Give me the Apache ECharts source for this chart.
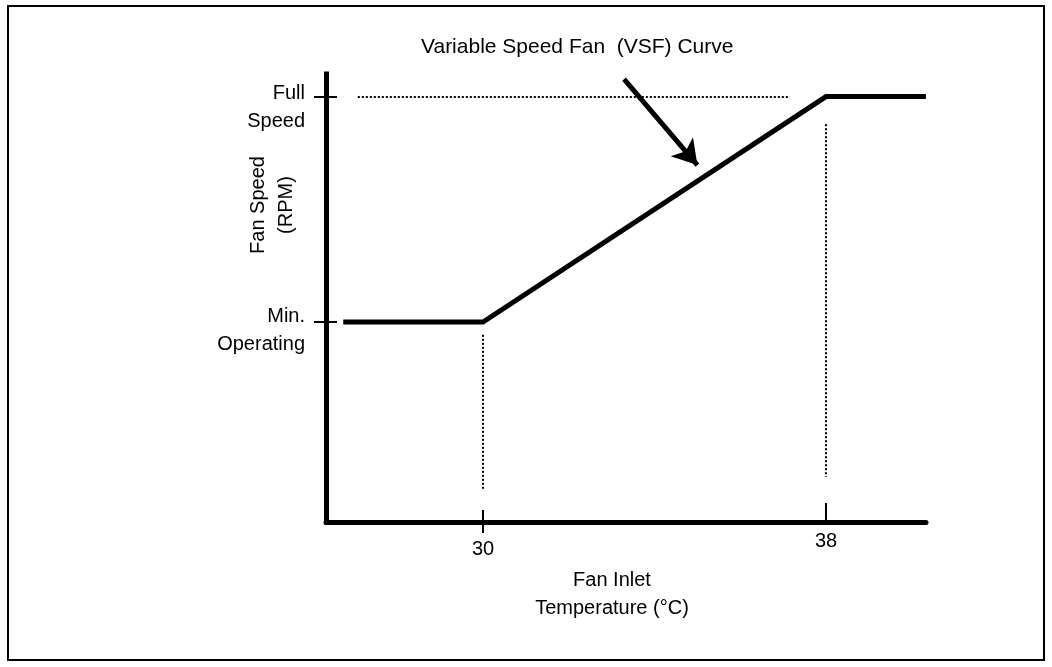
<!DOCTYPE html>
<html><head><meta charset="utf-8">
<script src="https://cdn.jsdelivr.net/npm/echarts@6/dist/echarts.min.js"></script>
<style>html,body{margin:0;padding:0;background:#fff}#c{width:1052px;height:667px}</style>
</head><body><div id="c"></div>
<script>
// ---- data ----
const TITLE = 'Variable Speed Fan  (VSF) Curve';
const X_NAME = 'Fan Inlet\nTemperature (°C)';
const Y_NAME = 'Fan Speed\n(RPM)';
const X_TICK_A = [30];
const X_TICK_B = [38];
const Y_TICKS = [47, 100];
const Y_TICK_LABELS = ['Min.\nOperating', 'Full\nSpeed'];
const CURVE_X = [26.74, 30, 38, 40.33];
const CURVE_Y = [47, 47, 100, 100];
const ARROW_FROM = [33.29, 104.1];
const ARROW_TO = [35.0, 83.9];
const GUIDE_H = [[27.08, 100], [37.16, 100]];
const GUIDE_30 = [[30, 44], [30, 7.8]];
const GUIDE_38 = [[38, 93.5], [38, 10.6]];
const X_MIN = 26.338, X_MAX = 40.332, Y_MIN = 0, Y_MAX = 105.3;

const FONT = '"Liberation Sans", Arial, sans-serif';
const chart = echarts.init(document.getElementById('c'), null, {renderer: 'canvas'});
const curve = CURVE_X.map((x, i) => [x, CURVE_Y[i]]);
const dotted = {color: '#000', width: 2, type: [2, 2]};
const labelFor = v => {
  const t = Y_TICK_LABELS[Y_TICKS.indexOf(v)] || '';
  return '{s| }\n' + t.split('\n').map(l => '{t|' + l + '}').join('\n');
};
const rich = h => ({
  s: {lineHeight: h, fontSize: 1, height: h},
  t: {lineHeight: 28, fontSize: 20, fontFamily: FONT, color: '#000'}
});

const baseX = {type: 'value', min: X_MIN, max: X_MAX, position: 'bottom', splitLine: {show: false}};
const baseY = {type: 'value', min: Y_MIN, max: Y_MAX, position: 'left', splitLine: {show: false}};

chart.setOption({
  animation: false,
  backgroundColor: '#fff',
  title: {
    text: TITLE, left: 416, top: 32,
    textStyle: {fontFamily: FONT, fontSize: 21, fontWeight: 'normal', color: '#000'}
  },
  grid: {left: 326, right: 126, top: 74, bottom: 145, containLabel: false},
  xAxis: [
    Object.assign({}, baseX, {
      axisLine: {show: true, lineStyle: {color: '#000', width: 5}},
      axisTick: {show: true, customValues: X_TICK_A, length: 11, lineStyle: {color: '#000', width: 2}},
      axisLabel: {show: true, customValues: X_TICK_A, margin: 17, fontFamily: FONT, fontSize: 20, color: '#000'},
      name: X_NAME, nameLocation: 'middle', nameGap: 44,
      nameTextStyle: {fontFamily: FONT, fontSize: 20, color: '#000', lineHeight: 28, padding: [0, 28, 0, 0]}
    }),
    Object.assign({}, baseX, {
      axisLine: {show: false},
      axisTick: {show: true, inside: true, customValues: X_TICK_B, length: 19, lineStyle: {color: '#000', width: 2}},
      axisLabel: {show: true, customValues: X_TICK_B, margin: 9, fontFamily: FONT, fontSize: 20, color: '#000'}
    }),
    Object.assign({}, baseX, {
      axisLine: {show: false},
      axisTick: {show: true, inside: true, customValues: X_TICK_A, length: 12, lineStyle: {color: '#000', width: 2}},
      axisLabel: {show: false}
    })
  ],
  yAxis: [
    Object.assign({}, baseY, {
      axisLine: {show: true, lineStyle: {color: '#000', width: 5, cap: 'square'}},
      axisTick: {show: true, customValues: Y_TICKS, length: 12, lineStyle: {color: '#000', width: 2}},
      axisLabel: {
        show: true, customValues: [Y_TICKS[1]], margin: 21, formatter: labelFor, rich: rich(21)
      }
    }),
    Object.assign({}, baseY, {
      axisLine: {show: false},
      axisTick: {show: true, inside: true, customValues: Y_TICKS, length: 11, lineStyle: {color: '#000', width: 2}},
      axisLabel: {
        show: true, customValues: [Y_TICKS[0]], margin: 21, formatter: labelFor, rich: rich(16)
      }
    })
  ],
  graphic: [
    {type: 'rect', shape: {x: 8, y: 6, width: 1036, height: 654}, style: {fill: 'none', stroke: '#000', lineWidth: 2}, silent: true},
    {type: 'text', x: 272, y: 205, rotation: Math.PI / 2,
     style: {text: Y_NAME, font: '20px ' + FONT, fill: '#000', align: 'center', verticalAlign: 'middle', lineHeight: 28}}
  ],
  series: [
    {
      type: 'line', data: curve, symbol: 'none', xAxisIndex: 0, yAxisIndex: 0,
      lineStyle: {color: '#000', width: 5, join: 'miter'}, z: 5
    },
    {
      type: 'line', data: [], xAxisIndex: 0, yAxisIndex: 0,
      markLine: {
        silent: true, animation: false, symbol: 'none', label: {show: false},
        lineStyle: dotted,
        data: [
          [{coord: GUIDE_H[0]}, {coord: GUIDE_H[1]}],
          [{coord: GUIDE_30[0]}, {coord: GUIDE_30[1]}],
          [{coord: GUIDE_38[0]}, {coord: GUIDE_38[1]}]
        ]
      }
    },
    {
      type: 'line', data: [], xAxisIndex: 0, yAxisIndex: 0, z: 6,
      markLine: {
        silent: true, animation: false, symbol: ['none', 'arrow'], symbolSize: [22, 24],
        label: {show: false},
        lineStyle: {color: '#000', width: 5, type: 'solid'},
        itemStyle: {color: '#000'},
        data: [[{coord: ARROW_FROM}, {coord: ARROW_TO}]]
      }
    }
  ]
});
</script>
</body></html>
